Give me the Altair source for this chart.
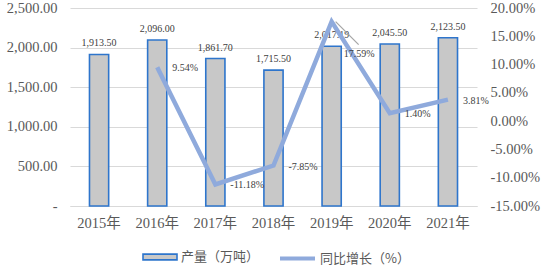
import altair as alt
import pandas as pd

years = ["2015年", "2016年", "2017年", "2018年", "2019年", "2020年", "2021年"]
output = [1913.50, 2096.00, 1861.70, 1715.50, 2017.19, 2045.50, 2123.50]
growth = [None, 9.54, -11.18, -7.85, 17.59, 1.40, 3.81]
bar_name = "产量（万吨）"
line_name = "同比增长（%）"
left_ticks = [0, 500, 1000, 1500, 2000, 2500]
right_ticks = [-15, -10, -5, 0, 5, 10, 15, 20]

df = pd.DataFrame({"year": years, "output": output, "growth": growth})
df["bar_series"] = bar_name
df["line_series"] = line_name

SERIF = "Liberation Serif, Noto Sans CJK SC"
CJK = "Noto Sans CJK SC"
BAR_FILL = "#C8C8C8"
BAR_STROKE = "#2E75CC"
LINE = "#8FAADC"
GRID = "#D9D9D9"
LABEL = "#595959"

PCT_EXPR = "replace(format(datum.growth / 100, '.2%'), '\u2212', '-')"

legend_common = dict(
    title=None,
    orient="none",
    direction="horizontal",
    labelFont=CJK,
    labelFontSize=13,
    labelColor=LABEL,
    labelOffset=3,
)

bar_legend = alt.Legend(
    symbolType="M-1,-0.17H1V0.17H-1Z",
    symbolSize=1156,
    symbolStrokeColor=BAR_STROKE,
    symbolStrokeWidth=1.6,
    symbolFillColor=BAR_FILL,
    legendX=72,
    legendY=231,
    **legend_common,
)

line_legend = alt.Legend(
    symbolType="stroke",
    symbolSize=1225,
    symbolStrokeWidth=4,
    symbolStrokeColor=LINE,
    legendX=208,
    legendY=231,
    **legend_common,
)

x_enc = alt.X(
    "year:N",
    sort=years,
    scale=alt.Scale(paddingInner=0.67, paddingOuter=0.335),
    axis=alt.Axis(
        title=None,
        labelAngle=0,
        labelFont=SERIF,
        labelFontSize=14.5,
        labelColor=LABEL,
        labelPadding=10,
        ticks=False,
        domainColor=GRID,
        domainWidth=1,
        grid=False,
    ),
)

y_left = alt.Y(
    "output:Q",
    scale=alt.Scale(domain=[0, 2500], nice=False),
    axis=alt.Axis(
        title=None,
        orient="left",
        values=left_ticks,
        labelExpr="datum.value == 0 ? '-\u00a0\u00a0\u00a0\u00a0' : format(datum.value, ',.2f')",
        labelFont=SERIF,
        labelFontSize=14.5,
        labelColor=LABEL,
        labelPadding=13,
        labelOverlap=False,
        labelFlush=False,
        ticks=False,
        domain=False,
        grid=True,
        gridColor=GRID,
        gridWidth=1,
    ),
)

y_right = alt.Y(
    "growth:Q",
    scale=alt.Scale(domain=[-15, 20], nice=False),
    axis=alt.Axis(
        title=None,
        orient="right",
        values=right_ticks,
        labelExpr="replace(format(datum.value / 100, '.2%'), '\u2212', '-')",
        labelFont=SERIF,
        labelFontSize=14.5,
        labelColor=LABEL,
        labelPadding=13,
        labelOverlap=False,
        labelFlush=False,
        ticks=False,
        domain=False,
        grid=False,
    ),
)

base = alt.Chart(df)

bars = base.mark_bar(stroke=BAR_STROKE, strokeWidth=1.6).encode(
    x=x_enc,
    y=y_left,
    fill=alt.Fill(
        "bar_series:N",
        scale=alt.Scale(domain=[bar_name], range=[BAR_FILL]),
        legend=bar_legend,
    ),
)

bar_labels = base.mark_text(
    baseline="bottom", dy=-6, font=SERIF, fontSize=10, color="#404040"
).encode(
    x=x_enc,
    y=y_left,
    text=alt.Text("output:Q", format=",.2f"),
)

left_layer = alt.layer(bars, bar_labels)

valid = base.transform_filter("isValid(datum.growth)")

line = valid.mark_line(strokeWidth=4.5, strokeJoin="miter").encode(
    x=x_enc,
    y=y_right,
    stroke=alt.Stroke(
        "line_series:N",
        scale=alt.Scale(domain=[line_name], range=[LINE]),
        legend=line_legend,
    ),
)

pct_labels = valid.transform_filter("datum.year != '2019年'").transform_calculate(
    pct=PCT_EXPR
).mark_text(
    align="left", baseline="middle", dx=15, dy=1, font=SERIF, fontSize=10, color="#404040"
).encode(
    x=x_enc,
    y=y_right,
    text=alt.Text("pct:N"),
)

peak = valid.transform_filter("datum.year == '2019年'")

peak_label = peak.transform_calculate(pct=PCT_EXPR).mark_text(
    align="left", baseline="middle", dx=12, dy=32, font=SERIF, fontSize=10, color="#404040"
).encode(
    x=x_enc,
    y=y_right,
    text=alt.Text("pct:N"),
)

leader = peak.mark_rule(
    color="#A6A6A6", strokeWidth=1.2, xOffset=4, x2Offset=27, yOffset=0, y2Offset=23
).encode(
    x=x_enc,
    x2=alt.X2("year"),
    y=y_right,
    y2=alt.Y2("growth"),
)

right_layer = alt.layer(line, leader, pct_labels, peak_label)

chart = (
    alt.layer(left_layer, right_layer)
    .resolve_scale(y="independent")
    .properties(
        width=407,
        height=198,
        autosize=alt.AutoSizeParams(type="none"),
        padding={"left": 70, "top": 8, "right": 66, "bottom": 59},
    )
    .configure_view(stroke=None)
    .configure_axis(labelOverlap=False)
)

chart.save("out.html", embed_options={"renderer": "svg", "actions": False})
